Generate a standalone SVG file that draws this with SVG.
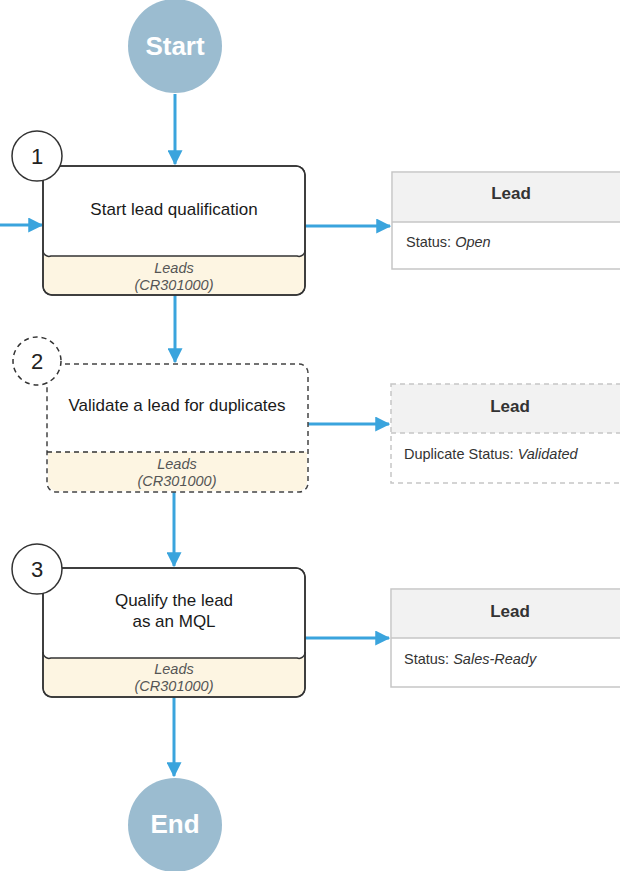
<svg xmlns="http://www.w3.org/2000/svg" width="620" height="871" viewBox="0 0 620 871">
  <style>
    .term { fill: #9bbcd0; }
    .termtxt { font-family: "Liberation Sans", Arial, sans-serif; font-size: 26px; font-weight: bold; fill: #ffffff; text-anchor: middle; }
    .box { fill: #ffffff; stroke: #333333; stroke-width: 1.5; }
    .band { fill: #fdf5e2; }
    .sep { stroke: #333333; stroke-width: 1.5; fill: none; }
    .dash { stroke-dasharray: 5 4; }
    .num { fill: #ffffff; stroke: #333333; stroke-width: 1.5; }
    .numtxt { font-family: "Liberation Sans", Arial, sans-serif; font-size: 22px; fill: #222222; text-anchor: middle; }
    .label { font-family: "Liberation Sans", Arial, sans-serif; font-size: 17px; fill: #1a1a1a; text-anchor: middle; }
    .screen { font-family: "Liberation Sans", Arial, sans-serif; font-size: 14.5px; font-style: italic; fill: #555555; text-anchor: middle; }
    .ent { fill: #ffffff; stroke: #c6c6c6; stroke-width: 1.5; }
    .enthead { fill: #f2f2f2; }
    .entline { stroke: #c6c6c6; stroke-width: 1.5; }
    .enttitle { font-family: "Liberation Sans", Arial, sans-serif; font-size: 17px; font-weight: bold; fill: #333333; text-anchor: middle; }
    .entfield { font-family: "Liberation Sans", Arial, sans-serif; font-size: 14.5px; fill: #333333; }
    .conn { stroke: #3aa4dd; stroke-width: 3; fill: none; marker-end: url(#arrow); }
  </style>
  <defs>
    <marker id="arrow" viewBox="0 0 12 12" refX="11" refY="6" markerWidth="5" markerHeight="5" orient="auto" markerUnits="strokeWidth">
      <path d="M0,0 L12,6 L0,12 Z" fill="#3aa4dd"/>
    </marker>
  </defs>

  <!-- connectors -->
  <g id="connectors">
    <path class="conn" d="M175,94 V164"/>
    <path class="conn" d="M0,225 H42"/>
    <path class="conn" d="M305,226 H390"/>
    <path class="conn" d="M175,295 V362"/>
    <path class="conn" d="M308,424 H389"/>
    <path class="conn" d="M174,492 V566"/>
    <path class="conn" d="M305,638 H389"/>
    <path class="conn" d="M174,697 V776"/>
  </g>

  <!-- start terminal -->
  <g id="start">
    <circle class="term" cx="175" cy="46" r="47"/>
    <text class="termtxt" x="175" y="55">Start</text>
  </g>

  <!-- step 1 -->
  <g id="step1">
    <rect class="box" x="43" y="166" width="262" height="129" rx="9"/>
    <path class="band" d="M44,256 H304 V286 a8,8 0 0 1 -8,8 H52 a8,8 0 0 1 -8,-8 Z"/>
    <path class="sep" d="M43,250 a6,6 0 0 0 8,6 H297 a6,6 0 0 0 8,-6"/>
    <rect x="43" y="166" width="262" height="129" rx="9" fill="none" stroke="#333333" stroke-width="1.5"/>
    <circle class="num" cx="37" cy="156" r="25"/>
    <text class="numtxt" x="37" y="164">1</text>
    <text class="label" x="174" y="215">Start lead qualification</text>
    <text class="screen" x="174" y="273">Leads</text>
    <text class="screen" x="174" y="290">(CR301000)</text>
  </g>

  <!-- step 2 (dashed) -->
  <g id="step2">
    <path class="band" d="M48,452 H307 V482 a9,9 0 0 1 -9,9 H57 a9,9 0 0 1 -9,-9 Z"/>
    <rect x="47" y="364" width="261" height="128" rx="9" fill="none" stroke="#444444" stroke-width="1.5" class="dash"/>
    <path class="sep dash" d="M47,452 H308" stroke="#444444"/>
    <circle class="num dash" cx="37" cy="361" r="24"/>
    <text class="numtxt" x="37" y="369">2</text>
    <text class="label" x="177" y="411">Validate a lead for duplicates</text>
    <text class="screen" x="177" y="469">Leads</text>
    <text class="screen" x="177" y="486">(CR301000)</text>
  </g>

  <!-- step 3 -->
  <g id="step3">
    <rect class="box" x="43" y="568" width="262" height="129" rx="9"/>
    <path class="band" d="M44,658 H304 V688 a8,8 0 0 1 -8,8 H52 a8,8 0 0 1 -8,-8 Z"/>
    <path class="sep" d="M43,652 a6,6 0 0 0 8,6 H297 a6,6 0 0 0 8,-6"/>
    <rect x="43" y="568" width="262" height="129" rx="9" fill="none" stroke="#333333" stroke-width="1.5"/>
    <circle class="num" cx="37" cy="569" r="25"/>
    <text class="numtxt" x="37" y="577">3</text>
    <text class="label" x="174" y="606">Qualify the lead</text>
    <text class="label" x="174" y="627">as an MQL</text>
    <text class="screen" x="174" y="674">Leads</text>
    <text class="screen" x="174" y="691">(CR301000)</text>
  </g>

  <!-- end terminal -->
  <g id="end">
    <circle class="term" cx="175" cy="825" r="47"/>
    <text class="termtxt" x="175" y="833">End</text>
  </g>

  <!-- entity: lead after step 1 -->
  <g id="lead1">
    <rect class="ent" x="392" y="172" width="240" height="97"/>
    <rect class="enthead" x="393" y="173" width="238" height="49"/>
    <line class="entline" x1="392" y1="222" x2="632" y2="222"/>
    <text class="enttitle" x="511" y="199">Lead</text>
    <text class="entfield" x="406" y="247">Status: <tspan font-style="italic">Open</tspan></text>
  </g>

  <!-- entity: lead after step 2 (dashed) -->
  <g id="lead2">
    <rect class="enthead" x="391" y="384" width="240" height="49"/>
    <rect x="391" y="384" width="240" height="99" fill="none" stroke="#c6c6c6" stroke-width="1.5" class="dash"/>
    <line class="entline dash" x1="391" y1="433" x2="631" y2="433"/>
    <text class="enttitle" x="510" y="412">Lead</text>
    <text class="entfield" x="404" y="459">Duplicate Status: <tspan font-style="italic">Validated</tspan></text>
  </g>

  <!-- entity: lead after step 3 -->
  <g id="lead3">
    <rect class="ent" x="391" y="589" width="240" height="98"/>
    <rect class="enthead" x="392" y="590" width="238" height="48"/>
    <line class="entline" x1="391" y1="638" x2="631" y2="638"/>
    <text class="enttitle" x="510" y="617">Lead</text>
    <text class="entfield" x="404" y="664">Status: <tspan font-style="italic">Sales-Ready</tspan></text>
  </g>
</svg>
